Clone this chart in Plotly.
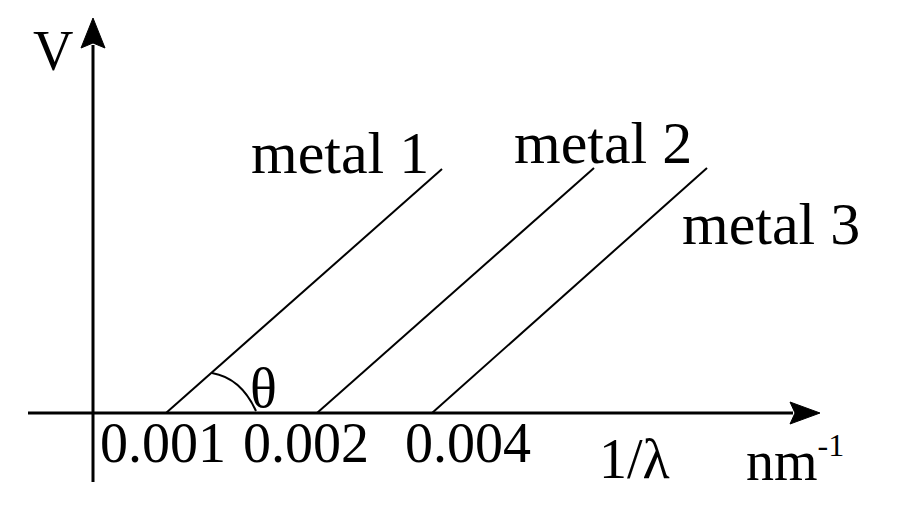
import plotly.graph_objects as go

# schematic V vs 1/lambda, diagram units (origin where the axes cross)
metals = ["metal 1", "metal 2", "metal 3"]
x_start = [73, 224, 339]      # threshold (x intercept) positions
x_end = [349, 501, 614]
y_end = [244, 245, 245]
tick_text = ["0.001", "0.002", "0.004"]

FONT = dict(family="Liberation Serif", size=56, color="black")
BIG = dict(family="Liberation Serif", size=60, color="black")

fig = go.Figure()

# axes
fig.add_trace(go.Scatter(x=[-65, 700], y=[0, 0], mode="lines",
                         line=dict(color="black", width=3), hoverinfo="skip"))
fig.add_trace(go.Scatter(x=[0, 0], y=[-69, 368], mode="lines",
                         line=dict(color="black", width=3), hoverinfo="skip"))

# the three metal lines
for i, m in enumerate(metals):
    fig.add_trace(go.Scatter(x=[x_start[i], x_end[i]], y=[0, y_end[i]], mode="lines",
                             line=dict(color="black", width=2), name=m, hoverinfo="skip"))

# arrow heads
fig.add_shape(type="path", path="M -12,365 L 0,395 L 12,365 L 0,370 Z",
              fillcolor="black", line=dict(color="black", width=1))
fig.add_shape(type="path", path="M 697,11 L 727,0 L 697,-11 L 702,0 Z",
              fillcolor="black", line=dict(color="black", width=1))

# theta arc
fig.add_shape(type="path", path="M 119,40 Q 148,35 163,2",
              line=dict(color="black", width=2))

labels = [
    (-40, 362, "V", FONT),
    (247, 260, metals[0], BIG),
    (510, 270, metals[1], BIG),
    (678, 189, metals[2], BIG),
    (70, -30, tick_text[0], FONT),
    (213, -30, tick_text[1], FONT),
    (375, -30, tick_text[2], FONT),
    (170, 25, "θ", FONT),
    (541, -46, "1/λ", FONT),
    (702, -46, "nm<sup><span style='font-size:32px'>-1</span></sup>", FONT),
]
for x, y, t, f in labels:
    fig.add_annotation(x=x, y=y, text=t, showarrow=False, font=f,
                       xanchor="center", yanchor="middle")

# page body adds ~8px, so the ranges are shifted to compensate
fig.update_xaxes(range=[-85, 815], visible=False)
fig.update_yaxes(range=[-117, 405], visible=False)
fig.update_layout(width=900, height=522, margin=dict(l=0, r=0, t=0, b=0),
                  plot_bgcolor="white", paper_bgcolor="white", showlegend=False)

fig.write_html("out.html")
